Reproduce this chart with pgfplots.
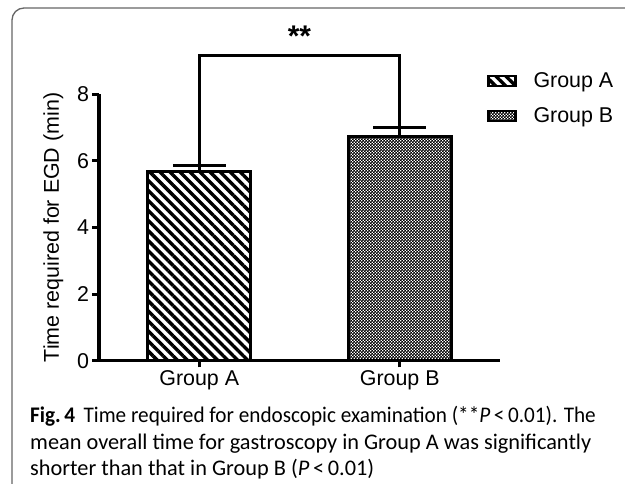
\documentclass[border=0pt]{standalone}
\usepackage{pgfplots}
\pgfplotsset{compat=1.18}
\usepackage{fontspec}
\setmainfont{Liberation Sans}
\newfontfamily\capfont{Carlito}
\usetikzlibrary{patterns,patterns.meta}

\pgfdeclarepatternformonly{mychecker}{\pgfpointorigin}{\pgfqpoint{3.4bp}{3.4bp}}{\pgfqpoint{3.4bp}{3.4bp}}{%
  \pgfpathrectangle{\pgfpointorigin}{\pgfqpoint{1.95bp}{1.95bp}}%
  \pgfpathrectangle{\pgfqpoint{1.7bp}{1.7bp}}{\pgfqpoint{1.95bp}{1.95bp}}%
  \pgfusepath{fill}}

\newcommand{\chartfont}{\fontsize{21.5}{24}\selectfont}

\begin{document}
\begin{tikzpicture}
\useasboundingbox (0,0) rectangle (625bp,484bp);
\draw[black!60, line width=1.3bp] (12bp,-2bp) -- (12bp,464bp) arc[start angle=180,end angle=90,radius=12bp] -- (627bp,476bp);
\begin{axis}[
  at={(99bp,123bp)}, anchor=south west,
  scale only axis, width=401bp, height=267bp,
  xmin=-0.5, xmax=1.5, ymin=0, ymax=8,
  axis x line*=bottom, axis y line*=left,
  axis line style={line width=3bp, black},
  xtick={0,1}, xticklabels={Group A, Group B},
  ytick={0,2,4,6,8},
  tick align=outside,
  major tick length=6.5bp,
  tick style={line width=3bp, black},
  ticklabel style={font=\chartfont},
  /pgf/number format/assume math mode=true,
  ylabel={Time required for EGD (min)},
  ylabel style={font=\chartfont},
  ylabel shift=7bp,
  clip=false,
  legend style={draw=none, fill=none, inner sep=0pt, outer sep=0pt,
    at={(rel axis cs:0.9676,1.115)}, anchor=north west,
    font=\chartfont, nodes={inner sep=0pt, text height=24.5bp, text depth=10.5bp},
    /tikz/column sep=17bp, /tikz/row sep=0bp},
  legend cell align=left,
  legend image code/.code={\draw[#1, line width=2.5bp] (0bp,-5bp) rectangle (27bp,5bp);},
]
\addplot[ybar, bar width=103bp, bar shift=0pt, draw=black, line width=3bp,
  pattern={Lines[angle=-45,distance=7.1bp,line width=3.4bp]},
  error bars/.cd, y dir=plus, y explicit,
  error bar style={line width=3bp, black},
  error mark options={rotate=90, mark size=26.5bp, line width=3bp, black}]
  coordinates {(0,5.69) +- (0,0.18)};
\addlegendentry{Group A}
\addplot[ybar, bar width=103bp, bar shift=0pt, draw=black, line width=3bp,
  pattern=mychecker,
  error bars/.cd, y dir=plus, y explicit,
  error bar style={line width=3bp, black},
  error mark options={rotate=90, mark size=26.5bp, line width=3bp, black}]
  coordinates {(1,6.74) +- (0,0.26)};
\addlegendentry{Group B}
\addplot[black, line width=3bp, line join=miter, forget plot]
  coordinates {(0,5.87) (0,9.14) (1,9.14) (1,7.0)};
\node[font=\bfseries\fontsize{30}{32}\selectfont, anchor=base] at (axis cs:0.5,9.42) {**};
\end{axis}
\begin{scope}[font=\capfont\fontsize{22.4}{26}\selectfont]
\node[anchor=base west, inner sep=0pt] at (30bp,61bp) {\scalebox{0.95}[1]{\textbf{Fig.\,4}\hspace{0.4em}Time required for endoscopic examination (**\textit{P}\,<\,0.01). The}};
\node[anchor=base west, inner sep=0pt] at (30bp,35bp) {mean overall time for gastroscopy in Group A was significantly};
\node[anchor=base west, inner sep=0pt] at (30bp,9bp) {shorter than that in Group B (\textit{P}\,<\,0.01)};
\end{scope}
\end{tikzpicture}
\end{document}
